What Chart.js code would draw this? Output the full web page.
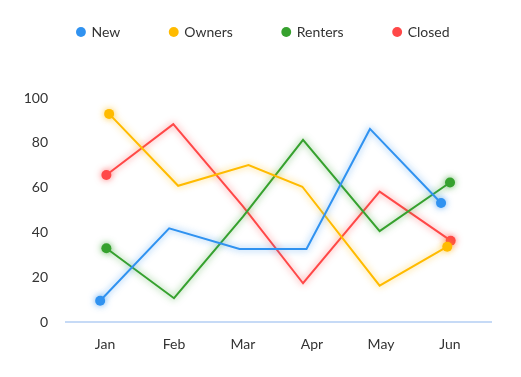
<!DOCTYPE html>
<html>
<head>
<meta charset="utf-8">
<script src="https://cdn.jsdelivr.net/npm/chart.js@4"></script>
<style>
  html, body { margin: 0; padding: 0; background: #fff; }
  #wrap { width: 521px; height: 377px; }
</style>
</head>
<body>
<div id="wrap"><canvas id="chart" width="521" height="377"></canvas></div>
<script>
const months = ["Jan", "Feb", "Mar", "Apr", "May", "Jun"];
const seriesNames = ["New", "Owners", "Renters", "Closed"];
const colors = ["#3092F0", "#FFBB00", "#36A12E", "#FF4848"];

// x is a month position (0 = Jan)
const newX = [-0.07, 0.93, 1.95, 2.92, 3.84, 4.87];
const newY = [9.5, 41.8, 32.6, 32.6, 86.2, 53.1];
const ownersX = [0.06, 1.06, 2.08, 2.86, 3.98, 4.96];
const ownersY = [92.9, 60.8, 70.1, 60.4, 16.2, 33.6];
const rentersX = [0.02, 1.0, 2.0, 2.87, 3.98, 5.0];
const rentersY = [32.9, 10.6, 47, 81.3, 40.6, 62.3];
const closedX = [0.02, 0.99, 2.0, 2.87, 3.98, 5.01];
const closedY = [65.6, 88.3, 51.6, 17.3, 58.2, 36.3];
const yTicks = [0, 20, 40, 60, 80, 100];

const xs = [newX, ownersX, rentersX, closedX];
const ys = [newY, ownersY, rentersY, closedY];

Chart.defaults.font.family = "Lato, 'Open Sans', sans-serif";
Chart.defaults.font.size = 14;
Chart.defaults.color = "#333";

// soft coloured glow under each line
const glow = {
  id: "glow",
  beforeDatasetDraw(chart, args) {
    const ctx = chart.ctx;
    ctx.save();
    ctx.shadowColor = args.meta.dataset.options.borderColor + "bb";
    ctx.shadowBlur = 7;
  },
  afterDatasetDraw(chart) {
    chart.ctx.restore();
  },
};

// legend: one wide row up top, chart area starts lower; nudge it right a bit
const legendSpace = {
  id: "legendSpace",
  afterInit(chart) {
    const lg = chart.legend;
    const fit = lg.fit;
    lg.fit = function () {
      this.maxWidth = 800;
      fit.call(this);
      this.height = 123;
    };
  },
  afterLayout(chart) {
    chart.legend.left += 18;
    chart.legend.right += 18;
  },
};

const datasets = seriesNames.map((name, i) => ({
  label: name,
  data: xs[i].map((x, j) => ({ x, y: ys[i][j] })),
  borderColor: colors[i],
  backgroundColor: colors[i],
  borderWidth: 2,
  tension: 0,
  pointRadius: (c) => (c.dataIndex === 0 || c.dataIndex === xs[i].length - 1 ? 5 : 0),
  pointHoverRadius: 5,
  pointBorderWidth: 0,
}));

new Chart(document.getElementById("chart"), {
  type: "line",
  data: { datasets },
  options: {
    responsive: false,
    animation: false,
    layout: { padding: { top: -25, left: 0, right: 30, bottom: 0 } },
    plugins: {
      legend: {
        position: "top",
        labels: {
          usePointStyle: true,
          pointStyle: "circle",
          boxWidth: 7,
          boxHeight: 7,
          padding: 50,
          color: "#333",
          font: { size: 14 },
        },
      },
      tooltip: { enabled: false },
    },
    scales: {
      x: {
        type: "linear",
        min: -0.565,
        max: 5.594,
        afterBuildTicks: (s) => { s.ticks = months.map((_, i) => ({ value: i })); },
        afterFit: (s) => { s.height = 55; },
        ticks: {
          autoSkip: false,
          maxRotation: 0,
          padding: 14,
          callback: (v) => months[v],
        },
        grid: { display: false, drawTicks: false },
        border: { display: true, color: "#C6DAF6", width: 2 },
      },
      y: {
        min: 0,
        max: 100,
        afterBuildTicks: (s) => { s.ticks = yTicks.map((v) => ({ value: v })); },
        afterFit: (s) => { s.width = 66; },
        ticks: { padding: 18 },
        grid: { display: false, drawTicks: false },
        border: { display: false },
      },
    },
  },
  plugins: [glow, legendSpace],
});
</script>
</body>
</html>
